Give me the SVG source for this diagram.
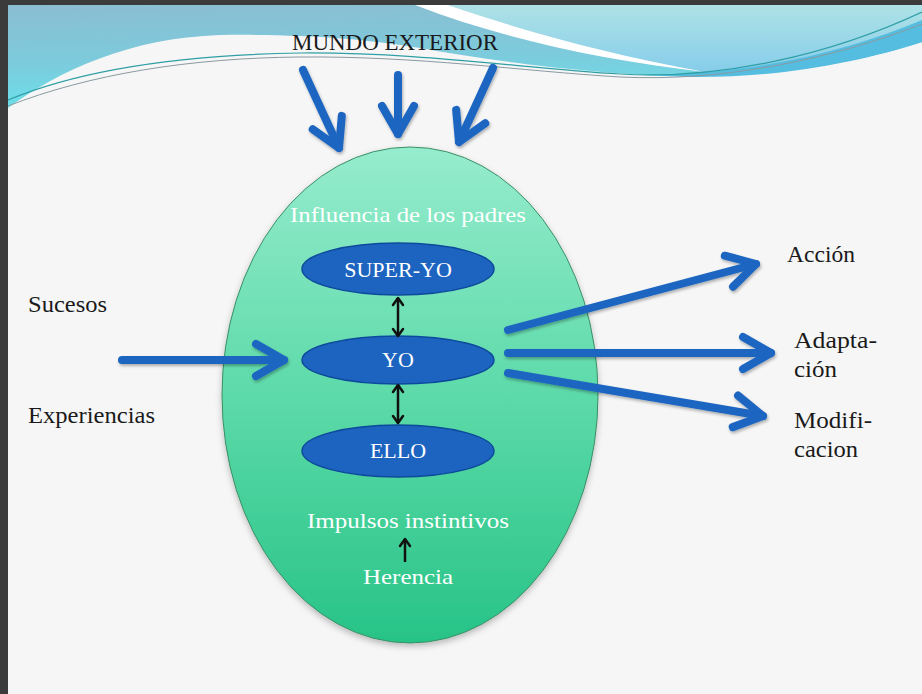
<svg xmlns="http://www.w3.org/2000/svg" width="922" height="694" viewBox="0 0 922 694">
<defs>
<style>
.t{font-family:"Liberation Serif","Times New Roman",serif;fill:#1a1a1a;font-size:23px}
.w{font-family:"Liberation Serif","Times New Roman",serif;fill:#ffffff;font-size:22px;text-anchor:middle}
.inner{fill:#1c64c0;stroke:#0e4a9c;stroke-width:1.5}
.blue{fill:none;stroke:#1c66c2;stroke-width:8;stroke-linecap:round}
.blk{fill:none;stroke:#111;stroke-width:2.5}
</style>
<linearGradient id="gTopL" x1="0" y1="0" x2="0.15" y2="1">
<stop offset="0" stop-color="#8bbdd2"/>
<stop offset="0.55" stop-color="#7ccbdc"/>
<stop offset="1" stop-color="#6be0ea"/>
</linearGradient>
<linearGradient id="gTopR" x1="0" y1="0" x2="0" y2="1">
<stop offset="0" stop-color="#aee2e6"/>
<stop offset="1" stop-color="#86cdea"/>
</linearGradient>
<linearGradient id="gEgg" x1="0" y1="0" x2="0" y2="1">
<stop offset="0" stop-color="#96ecce"/>
<stop offset="0.5" stop-color="#5ddaa9"/>
<stop offset="1" stop-color="#27c386"/>
</linearGradient>
<filter id="sh" x="-10%" y="-10%" width="130%" height="130%">
<feDropShadow dx="1" dy="2" stdDeviation="1.5" flood-color="#000" flood-opacity="0.3"/>
</filter>
<filter id="shEgg" x="-10%" y="-10%" width="120%" height="120%">
<feDropShadow dx="0" dy="3" stdDeviation="3" flood-color="#000" flood-opacity="0.25"/>
</filter>
<marker id="chev" markerUnits="userSpaceOnUse" viewBox="-40 -25 50 50" markerWidth="50" markerHeight="50" refX="0" refY="0" orient="auto" overflow="visible">
<path d="M-28,-16 L0,0 L-28,16" fill="none" stroke="#1c66c2" stroke-width="8" stroke-linecap="round" stroke-linejoin="round"/>
</marker>
<marker id="bk" markerUnits="userSpaceOnUse" viewBox="-10 -8 12 16" markerWidth="12" markerHeight="16" refX="0" refY="0" orient="auto-start-reverse" overflow="visible">
<path d="M-7,-5 L0,0 L-7,5" fill="none" stroke="#111" stroke-width="2.5" stroke-linecap="round" stroke-linejoin="round"/>
</marker>
</defs>

<!-- background -->
<rect x="0" y="0" width="922" height="694" fill="#f6f6f6"/>
<path d="M8,5 H922 V42 C860,62 780,76 700,76 C600,76 500,62 420,48 C360,38 300,34 220,35 C130,38 60,70 8,108 Z" fill="url(#gTopL)"/>
<path d="M448,5 H922 V42 C860,62 780,76 700,72 C610,55 520,30 448,5 Z" fill="url(#gTopR)"/>
<path d="M415,5 L448,5 C520,30 610,55 705,72 C600,60 500,38 415,5 Z" fill="#ffffff"/>
<path d="M640,75 C760,74 850,50 922,20 L922,42 C860,62 780,78 690,77 Z" fill="#55bde0"/>
<path d="M8,100 C80,70 180,55 300,53 C420,52 520,68 620,74 C720,80 830,55 922,12" fill="none" stroke="#2e9fa5" stroke-width="1.2"/>
<path d="M8,106 C90,74 190,58 300,57 C420,56 520,71 620,77 C720,82 830,60 922,24" fill="none" stroke="#8a9aa0" stroke-width="1"/>
<rect x="0" y="0" width="922" height="5" fill="#3b3b3b"/>
<rect x="0" y="0" width="8" height="694" fill="#3b3b3b"/>

<text class="t" x="292" y="50" font-size="22" textLength="206" lengthAdjust="spacingAndGlyphs">MUNDO EXTERIOR</text>

<g id="psique">
<ellipse cx="410" cy="395" rx="188" ry="248" fill="url(#gEgg)" stroke="#3a8f66" stroke-width="1" filter="url(#shEgg)"/>
<text class="w" x="408" y="222" font-size="23" fill="#effff7" textLength="236" lengthAdjust="spacingAndGlyphs">Influencia de los padres</text>
<text class="w" x="408" y="528" font-size="23" textLength="202" lengthAdjust="spacingAndGlyphs">Impulsos instintivos</text>
<text class="w" x="408" y="584" font-size="23" textLength="90" lengthAdjust="spacingAndGlyphs">Herencia</text>
</g>

<g id="superyo">
<ellipse class="inner" cx="398" cy="269" rx="96" ry="26"/>
<text class="w" x="398" y="277">SUPER-YO</text>
</g>
<g id="yo">
<ellipse class="inner" cx="398" cy="360" rx="96" ry="24"/>
<text class="w" x="398" y="367">YO</text>
</g>
<g id="ello">
<ellipse class="inner" cx="398" cy="451" rx="96" ry="26"/>
<text class="w" x="398" y="458">ELLO</text>
</g>

<g id="labels">
<text class="t" x="28" y="312" textLength="79" lengthAdjust="spacingAndGlyphs">Sucesos</text>
<text class="t" x="28" y="423" textLength="127" lengthAdjust="spacingAndGlyphs">Experiencias</text>
<text class="t" x="787" y="262" textLength="68" lengthAdjust="spacingAndGlyphs">Acción</text>
<text class="t" x="794" y="348" textLength="83" lengthAdjust="spacingAndGlyphs">Adapta-</text>
<text class="t" x="794" y="377" textLength="43" lengthAdjust="spacingAndGlyphs">ción</text>
<text class="t" x="794" y="428" textLength="78" lengthAdjust="spacingAndGlyphs">Modifi-</text>
<text class="t" x="794" y="457" textLength="64" lengthAdjust="spacingAndGlyphs">cacion</text>
</g>

<g id="connectors">
<g filter="url(#sh)">
<line class="blue" x1="122" y1="360" x2="284" y2="360" marker-end="url(#chev)"/>
<line class="blue" x1="303" y1="70" x2="339" y2="148" marker-end="url(#chev)"/>
<line class="blue" x1="398" y1="75" x2="398" y2="134" marker-end="url(#chev)"/>
<line class="blue" x1="493" y1="68" x2="459" y2="142" marker-end="url(#chev)"/>
<line class="blue" x1="508" y1="330" x2="756" y2="264" marker-end="url(#chev)"/>
<line class="blue" x1="508" y1="353" x2="771" y2="353" marker-end="url(#chev)"/>
<line class="blue" x1="508" y1="373" x2="763" y2="416" marker-end="url(#chev)"/>
</g>
<line class="blk" x1="398" y1="298" x2="398" y2="336" marker-start="url(#bk)" marker-end="url(#bk)"/>
<line class="blk" x1="398" y1="385" x2="398" y2="423" marker-start="url(#bk)" marker-end="url(#bk)"/>
<line class="blk" x1="405" y1="562" x2="405" y2="539" marker-end="url(#bk)"/>
</g>
</svg>
